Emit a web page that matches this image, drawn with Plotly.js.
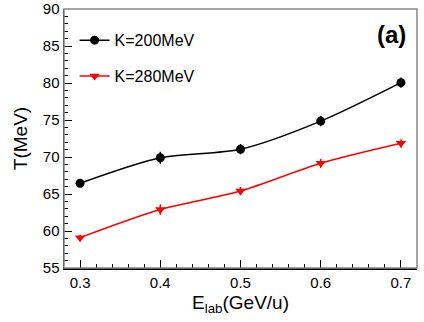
<!DOCTYPE html>
<html>
<head>
<meta charset="utf-8">
<script src="https://cdn.plot.ly/plotly-3.0.1.min.js"></script>
<style>
  html, body { margin: 0; padding: 0; background: #fff; }
  #chart { width: 424px; height: 322px; }
</style>
</head>
<body>
<div id="chart"></div>
<script>
// beam energy (GeV/u)
const energies = [0.3, 0.4, 0.5, 0.6, 0.7];

// temperature for K=200MeV
const tempK200 = [66.45, 69.9, 71.05, 74.85, 80.05];
const errK200 = [0.35, 0.8, 0.7, 0.7, 0.7];

// temperature for K=280MeV
const tempK280 = [59.1, 62.9, 65.4, 69.15, 71.85];
const errK280 = [0.4, 0.7, 0.55, 0.6, 0.55];

const xTicks = [0.3, 0.4, 0.5, 0.6, 0.7];
const yTicks = [55, 60, 65, 70, 75, 80, 85, 90];

const font = 'Liberation Sans, Arial, sans-serif';

function series(name, y, err, color, symbol) {
  return {
    type: 'scatter',
    mode: 'lines+markers',
    name: name,
    legendgroup: name,
    x: energies,
    y: y,
    line: { color: color, width: 1.5, shape: 'spline', smoothing: 0.8 },
    marker: { color: color, symbol: symbol, size: 9 },
    error_y: { type: 'data', array: err, visible: true, color: color, thickness: 1.5, width: 0 }
  };
}

const data = [
  series('K=200MeV', tempK200, errK200, '#000000', 'circle'),
  series('K=280MeV', tempK280, errK280, '#ff0000', 'triangle-down')
];

const layout = {
  width: 424,
  height: 322,
  margin: { l: 64, r: 7, t: 9, b: 54 },
  paper_bgcolor: '#fff',
  plot_bgcolor: '#fff',
  font: { family: font, size: 14, color: '#000' },
  showlegend: true,
  legend: {
    x: 0.03, y: 0.945, xanchor: 'left', yanchor: 'top',
    bgcolor: 'rgba(0,0,0,0)',
    font: { family: font, size: 16 },
    traceorder: 'grouped',
    tracegroupgap: 12,
    itemwidth: 30
  },
  xaxis: {
    range: [0.28, 0.72],
    tickvals: xTicks,
    ticktext: xTicks.map(v => v.toFixed(1)),
    ticks: 'inside', ticklen: 8, tickcolor: '#000',
    showgrid: false, zeroline: false,
    showline: true, linecolor: '#000', linewidth: 1.5,
    minor: { dtick: 0.02, tick0: 0.3, ticks: 'inside', ticklen: 4, tickcolor: '#000', showgrid: false },
    tickfont: { family: font, size: 15 },
    title: { text: 'E<sub>lab</sub>(GeV/u)', font: { family: font, size: 19 }, standoff: 6 }
  },
  yaxis: {
    range: [55, 90],
    tickvals: yTicks,
    ticks: 'inside', ticklen: 8, tickcolor: '#000',
    showgrid: false, zeroline: false,
    showline: true, linecolor: '#000', linewidth: 1.5,
    minor: { dtick: 1, tick0: 55, ticks: 'inside', ticklen: 4, tickcolor: '#000', showgrid: false },
    tickfont: { family: font, size: 15 },
    title: { text: 'T(MeV)', font: { family: font, size: 19 }, standoff: 10 }
  },
  shapes: [
    { type: 'rect', xref: 'paper', yref: 'paper', x0: 0, x1: 1, y0: 0, y1: 1,
      line: { color: '#888', width: 1.5 } }
  ],
  annotations: [
    { text: '<b>(a)</b>', xref: 'paper', yref: 'paper', x: 0.975, y: 0.9,
      xanchor: 'right', yanchor: 'middle', showarrow: false,
      font: { family: font, size: 24, color: '#000' } }
  ]
};

Plotly.newPlot('chart', data, layout, { displayModeBar: false, staticPlot: true });
</script>
</body>
</html>
